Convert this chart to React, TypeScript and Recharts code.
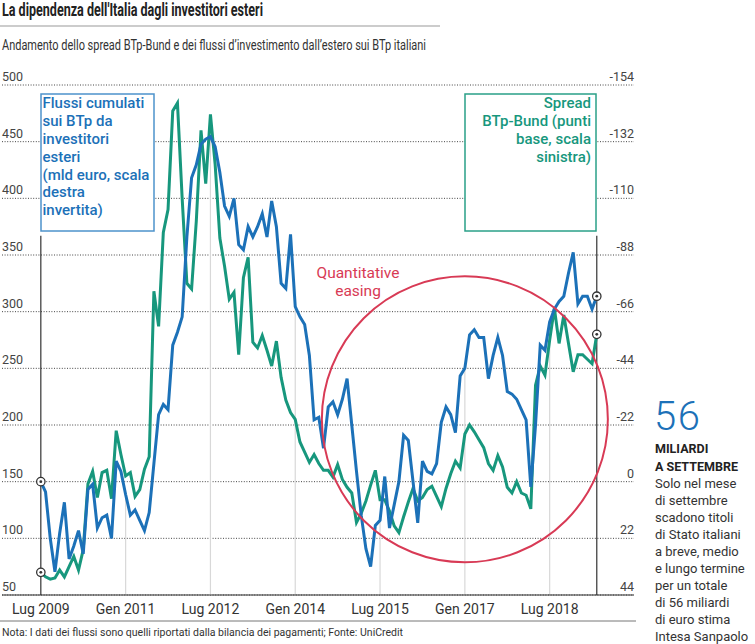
import { LineChart, Line, XAxis, YAxis, CartesianGrid, ReferenceLine, ReferenceDot } from "recharts";

// Spread BTp-Bund (punti base, scala sinistra), mensile da lug 2009
const SPREAD = [
  70, 66, 64, 65, 72, 66, 75, 84, 72, 90,
  148, 159, 136, 158, 160, 135, 195, 174, 155, 158,
  137, 143, 161, 172, 318, 287, 370, 390, 477, 484,
  400, 325, 320, 380, 460, 413, 474, 430, 365, 340,
  311, 317, 262, 330, 348, 273, 268, 279, 266, 252,
  274, 242, 222, 211, 205, 185, 176, 167, 174, 166,
  160, 160, 154, 165, 152, 145, 140, 114, 122, 133,
  147, 160, 134, 134, 124, 111, 105, 119, 132, 144,
  133, 136, 143, 146, 137, 128, 144, 157, 168, 162,
  192, 200, 194, 187, 180, 166, 160, 173, 163, 145,
  140, 150, 140, 138, 126, 235, 252, 244, 275, 303,
  272, 297, 272, 247, 262, 262, 258, 254, 280,
];

// Flussi cumulati investitori esteri (mld euro, scala destra invertita)
const FLUSSI = [
  0, 4, 22, 35, 20, 8, 30, 25, 19, 28,
  3, 1, 18, 14, 13, 22, -8, -4, 5, 13,
  11, 15, 19, 12, -7, -26, -30, -28, -53, -58,
  -64, -95, -118, -123, -131, -133, -134, -130, -120, -107,
  -103, -110, -92, -90, -99, -95, -99, -104, -95, -109,
  -99, -77, -75, -96, -68, -64, -61, -49, -24, -25,
  -13, -29, -31, -26, -32, -40, -22, -4, 13, 26,
  33, 17, 15, -2, 18, 9, 0, -18, -16, 0,
  16, -8, -4, -3, -7, -23, -29, -26, -19, -41,
  -44, -57, -59, -56, -56, -40, -49, -56, -49, -35,
  -34, -32, -28, -24, 2, -22, -53, -51, -62, -67,
  -70, -72, -81, -89, -69, -72, -72, -67, -72,
];

const TICK_MONTHS = [0, 18, 36, 54, 72, 90, 108];
const TICK_LABELS = ["Lug 2009", "Gen 2011", "Lug 2012", "Gen 2014", "Lug 2015", "Gen 2017", "Lug 2018"];
const LEFT_TICKS = [50, 100, 150, 200, 250, 300, 350, 400, 450, 500];
const RIGHT_TICKS = [-154, -132, -110, -88, -66, -44, -22, 0, 22, 44];

const BLUE = "#1c71b8";
const GREEN = "#17977d";
const RED = "#d83a55";
const FONT = "Roboto, 'Open Sans', sans-serif";

const QE = { t: 90, spread: 205 }; // centro del cerchio "Quantitative easing"
const AXIS_TOP = 367;

const data = SPREAD.map((s, i) => ({ t: i, spread: s, flussi: FLUSSI[i] }));
const LAST = SPREAD.length - 1;

const endDot = (props: any) => {
  const { cx, cy, index } = props;
  if (index !== 0 && index !== LAST) return <g key={`d${index}`} />;
  return (
    <g key={`d${index}`}>
      <circle cx={cx} cy={cy} r={4.2} fill="#fff" stroke="#333" strokeWidth={1.3} />
      <circle cx={cx} cy={cy} r={1.4} fill="#333" />
    </g>
  );
};

const leftTick = (props: any) => (
  <text x={props.x} y={props.y - 4} fontSize={12.5} fill="#444" textAnchor="start" fontFamily={FONT}>
    {props.payload.value}
  </text>
);

const rightTick = (props: any) => (
  <text x={props.x} y={props.y - 4} fontSize={12.5} fill="#444" textAnchor="end" fontFamily={FONT}>
    {props.payload.value}
  </text>
);

const BLUE_BOX = ["Flussi cumulati", "sui BTp da", "investitori", "esteri", "(mld euro, scala", "destra", "invertita)"];
const GREEN_BOX = ["Spread", "BTp-Bund (punti", "base, scala", "sinistra)"];
const SIDE = [
  "Solo nel mese", "di settembre", "scadono titoli", "di Stato italiani", "a breve, medio",
  "e lungo termine", "per un totale", "di 56 miliardi", "di euro stima", "Intesa Sanpaolo",
];

export default function App() {
  return (
    <div style={{ position: "absolute", left: 0, top: 0, width: 755, height: 644, background: "#fff", fontFamily: FONT }}>
      <div style={{ position: "absolute", left: 0, top: 0 }}>
        <LineChart width={640} height={644} data={data} margin={{ top: 85, right: 6, bottom: 0, left: 2 }}>
          <CartesianGrid yAxisId="left" vertical={false} stroke="#444" strokeDasharray="1 1.6" />
          <XAxis
            dataKey="t"
            type="number"
            domain={[-8.24, 125.9]}
            ticks={TICK_MONTHS}
            interval={0}
            tickFormatter={(v) => TICK_LABELS[TICK_MONTHS.indexOf(v)]}
            tickLine={false}
            tickSize={0}
            tickMargin={9}
            height={49}
            axisLine={{ stroke: "#333", strokeWidth: 1.2 }}
            tick={{ fontSize: 14, fill: "#333", fontFamily: FONT }}
          />
          <YAxis yAxisId="left" domain={[50, 500]} ticks={LEFT_TICKS} interval={0} width={1} mirror axisLine={false} tickLine={false} tickSize={0} tickMargin={0} tick={leftTick} />
          <YAxis yAxisId="right" orientation="right" reversed domain={[-154, 44]} ticks={RIGHT_TICKS} interval={0} width={1} mirror axisLine={false} tickLine={false} tickSize={0} tickMargin={0} tick={rightTick} />
          {TICK_MONTHS.slice(1).map((t) => (
            <ReferenceLine key={t} yAxisId="right" segment={[{ x: t, y: 44 }, { x: t, y: FLUSSI[t] }]} stroke="#d8d8d8" strokeWidth={1.2} />
          ))}
          <ReferenceLine yAxisId="left" segment={[{ x: 0, y: 50 }, { x: 0, y: AXIS_TOP }]} stroke="#333" strokeWidth={1.2} />
          <ReferenceLine yAxisId="left" segment={[{ x: LAST, y: 50 }, { x: LAST, y: AXIS_TOP }]} stroke="#333" strokeWidth={1.2} />
          <Line yAxisId="left" dataKey="spread" stroke={GREEN} strokeWidth={3} dot={endDot} activeDot={false} isAnimationActive={false} />
          <Line yAxisId="right" dataKey="flussi" stroke={BLUE} strokeWidth={3} dot={endDot} activeDot={false} isAnimationActive={false} />
          <ReferenceDot yAxisId="left" x={QE.t} y={QE.spread} r={143} fill="none" stroke={RED} strokeWidth={2} />
        </LineChart>
      </div>
      <svg width={755} height={644} style={{ position: "absolute", left: 0, top: 0 }} fontFamily={FONT}>
        <text x={2} y={16} fontSize={18} fontWeight={700} fill="#222" textLength={261} lengthAdjust="spacingAndGlyphs">
          La dipendenza dell'Italia dagli investitori esteri
        </text>
        <line x1={0} y1={26} x2={440} y2={26} stroke="#9a9a9a" strokeWidth={1.2} />
        <text x={2} y={49.5} fontSize={15} fill="#333" textLength={424} lengthAdjust="spacingAndGlyphs">
          Andamento dello spread BTp-Bund e dei flussi d’investimento dall’estero sui BTp italiani
        </text>

        <rect x={41} y={94} width={113} height={137} fill="#fff" stroke="#4d93cb" strokeWidth={1.5} />
        {BLUE_BOX.map((s, i) => (
          <text key={s} x={42.5} y={108.3 + i * 17.8} fontSize={15} fontWeight={500} fill={BLUE}>{s}</text>
        ))}
        <rect x={465} y={94} width={131} height={137} fill="#fff" stroke="#2aa088" strokeWidth={1.5} />
        {GREEN_BOX.map((s, i) => (
          <text key={s} x={591} y={108.3 + i * 17.8} fontSize={15} fontWeight={500} fill={GREEN} textAnchor="end">{s}</text>
        ))}

        <text x={358} y={277.5} fontSize={15.5} fill={RED} textAnchor="middle">Quantitative</text>
        <text x={358} y={295.5} fontSize={15.5} fill={RED} textAnchor="middle">easing</text>

        <text x={654} y={430} fontSize={40} fontWeight={300} fill={BLUE} letterSpacing={1.5}>56</text>
        <text x={655} y={452.5} fontSize={12.5} fontWeight={700} fill="#222">MILIARDI</text>
        <text x={655} y={470.5} fontSize={12.5} fontWeight={700} fill="#222">A SETTEMBRE</text>
        {SIDE.map((s, i) => (
          <text key={s} x={655} y={487.6 + i * 17} fontSize={13} fill="#333">{s}</text>
        ))}

        <line x1={0} y1={621} x2={636} y2={621} stroke="#777" strokeWidth={1} />
        <text x={2} y={636} fontSize={10} fill="#333" textLength={401} lengthAdjust="spacingAndGlyphs">
          Nota: I dati dei flussi sono quelli riportati dalla bilancia dei pagamenti; Fonte: UniCredit
        </text>
      </svg>
    </div>
  );
}
